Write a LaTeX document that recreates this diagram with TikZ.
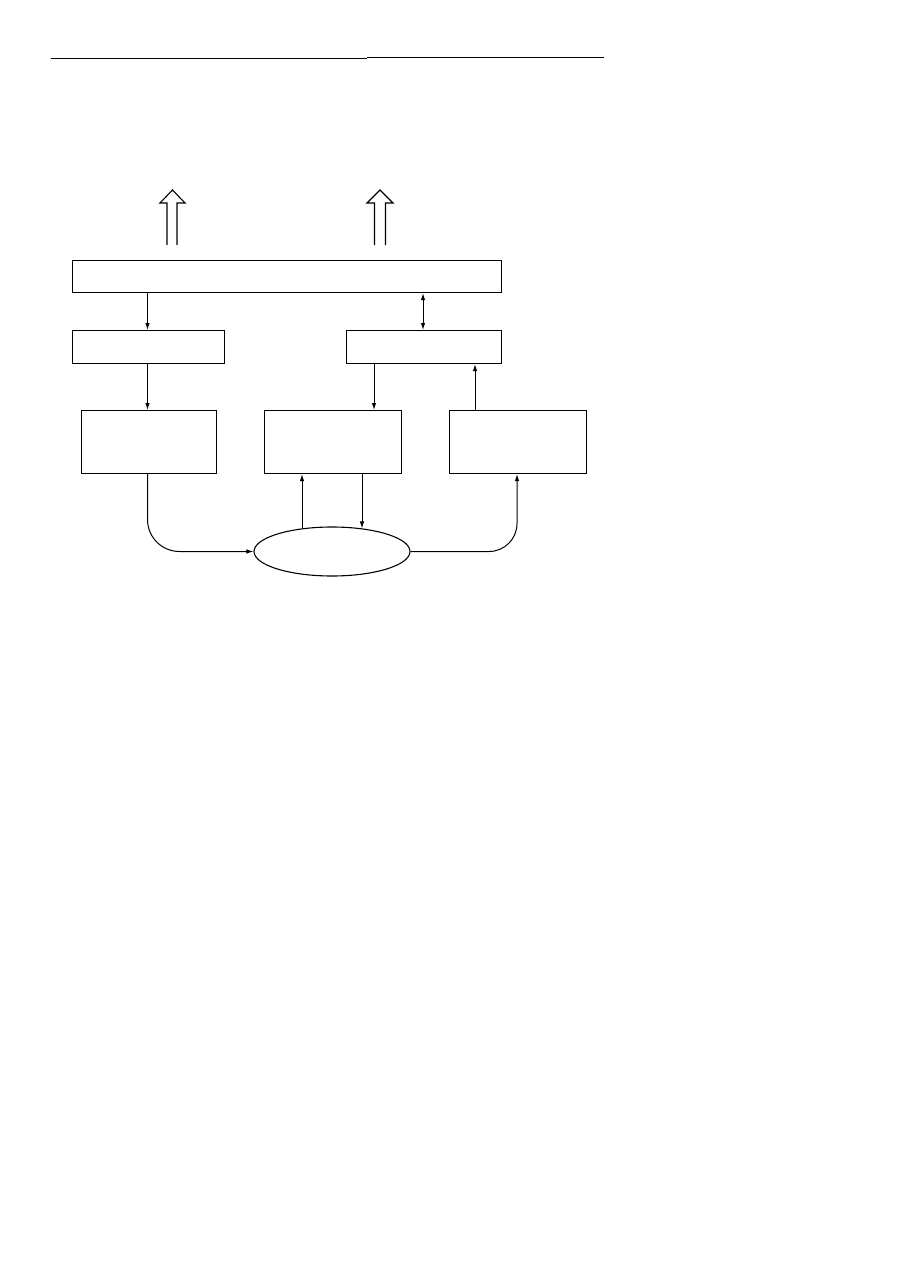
\documentclass[tikz,border=0pt]{standalone}
\usetikzlibrary{shapes.geometric,arrows.meta,calc}
\begin{document}
\begin{tikzpicture}[x=1pt,y=-1pt,
  box/.style={draw,line width=1.1pt,inner sep=0pt,anchor=north west},
  conn/.style={line width=1pt,-{Latex[length=7pt,width=4.5pt]}},
  hollow/.style={line width=1.1pt,line join=miter}]
\useasboundingbox (0,0) rectangle (896,1265);
% top rule
\draw[line width=1.8pt] (51,58.5) -- (367,58.5);
\draw[line width=1pt] (367,57.8) -- (604,57.8);
% hollow arrows
\draw[hollow] (167,245) -- (167,203) -- (160,203) -- (172.5,190) -- (185,203) -- (177,203) -- (177,245);
\draw[hollow] (374.5,245) -- (374.5,203) -- (367,203) -- (380,190) -- (393,203) -- (385.5,203) -- (385.5,245);
% boxes
\node[box,minimum width=429pt,minimum height=32pt] (top) at (72,260) {};
\node[box,minimum width=152pt,minimum height=33pt] (L2) at (72,330) {};
\node[box,minimum width=155pt,minimum height=33pt] (R2) at (346,330) {};
\node[box,minimum width=135pt,minimum height=63pt] (A) at (81,410) {};
\node[box,minimum width=137pt,minimum height=63pt] (B) at (264,410) {};
\node[box,minimum width=137pt,minimum height=63pt] (C) at (449,410) {};
\node[draw,ellipse,line width=1.1pt,minimum width=156pt,minimum height=49pt,inner sep=0pt] (E) at (332,551.5) {};
% coordinates for connector x positions
\coordinate (x1) at (147.5,0);
\coordinate (x2) at (423,0);
\coordinate (x3) at (374,0);
\coordinate (x4) at (475,0);
\coordinate (x5) at (302,0);
\coordinate (x6) at (362,0);
\coordinate (x7) at (517,0);
% connectors
\draw[conn] (top.south -| x1) -- (L2.north -| x1);
\draw[line width=1pt,{Latex[length=7pt,width=4.5pt]}-{Latex[length=7pt,width=4.5pt]}] (top.south -| x2) -- (R2.north -| x2);
\draw[conn] (L2.south -| x1) -- (A.north -| x1);
\draw[conn] (R2.south -| x3) -- (B.north -| x3);
\draw[conn] (C.north -| x4) -- (R2.south -| x4);
\draw[conn] ($(E.north -| x5)+(0,1.5)$) -- (B.south -| x5);
\draw[conn] (B.south -| x6) -- ($(E.north -| x6)+(0,2)$);
\draw[conn,rounded corners=32pt] (A.south -| x1) -- (x1 |- E.west) -- (E.west);
\draw[conn,rounded corners=28pt] (E.east) -- (x7 |- E.east) -- (C.south -| x7);
\end{tikzpicture}
\end{document}
